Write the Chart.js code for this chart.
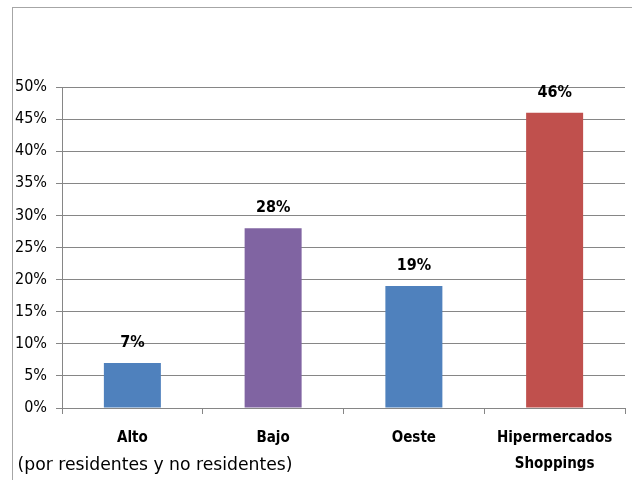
<!DOCTYPE html>
<html>
<head>
<meta charset="utf-8">
<script src="https://cdn.jsdelivr.net/npm/chart.js@4/dist/chart.umd.min.js"></script>
<style>
  html, body { margin: 0; padding: 0; background: #fff; }
  #wrap { width: 632px; height: 480px; position: relative; }
</style>
</head>
<body>
<div id="wrap"><canvas id="myBarChart" width="632" height="480"></canvas></div>
<script>
'use strict'

// datos del gráfico
const categorias = ["Alto", "Bajo", "Oeste", "Hipermercados"];
const subtitulos = ["(por residentes y no residentes)", "", "", "Shoppings"];
const porcentajes = [7, 28, 19, 46];
const colores = ["#4F81BD", "#8064A2", "#4F81BD", "#C0504D"];
const ticksY = [0, 5, 10, 15, 20, 25, 30, 35, 40, 45, 50];

const FUENTE = "'DejaVu Sans Condensed', 'Liberation Sans Narrow', sans-serif";

// marco gris y etiquetas dibujadas a mano
const etiquetasPlugin = {
    id: 'etiquetas',
    beforeDraw(chart) {
        const c = chart.ctx;
        c.save();
        c.strokeStyle = "#a6a6a6";
        c.lineWidth = 1;
        c.strokeRect(12.5, 7.5, 700, 600);
        c.restore();
    },
    afterDraw(chart) {
        const c = chart.ctx;
        const meta = chart.getDatasetMeta(0);
        const x = chart.scales.x;
        c.save();
        c.fillStyle = "#000";
        c.textAlign = "center";
        c.textBaseline = "middle";
        // valores sobre las barras
        c.font = "bold 16px " + FUENTE;
        meta.data.forEach((bar, i) => {
            c.fillText(porcentajes[i] + "%", bar.x, bar.y - 20);
        });
        // categorías
        categorias.forEach((cat, i) => {
            const px = x.getPixelForValue(i);
            c.font = "bold 15px " + FUENTE;
            c.fillText(cat, px, 438);
            if (!subtitulos[i]) return;
            if (i === 3) {
                c.fillText(subtitulos[i], px, 464);
            } else {
                // texto largo: se estira un poco a lo ancho
                c.font = "17px " + FUENTE;
                const w = c.measureText(subtitulos[i]).width;
                const k = 275 / w;
                c.save();
                c.translate(155, 466);
                c.scale(k, 1);
                c.fillText(subtitulos[i], 0, 0);
                c.restore();
            }
        });
        c.restore();
    }
};

new Chart(document.getElementById("myBarChart"), {
    type: 'bar',
    data: {
        labels: categorias,
        datasets: [{
            data: porcentajes,
            backgroundColor: colores,
            barPercentage: 0.405,
            categoryPercentage: 1
        }]
    },
    options: {
        responsive: false,
        animation: false,
        layout: { padding: { top: 87, right: 7, left: 0, bottom: 0 } },
        plugins: {
            legend: { display: false },
            tooltip: { enabled: false }
        },
        scales: {
            x: {
                grid: {
                    offset: true,
                    drawOnChartArea: false,
                    tickLength: 6,
                    color: "#868686"
                },
                border: { color: "#868686" },
                ticks: { display: false },
                afterFit(scale) { scale.height = 72; }
            },
            y: {
                min: 0,
                max: 50,
                afterBuildTicks(scale) {
                    scale.ticks = ticksY.map(v => ({ value: v }));
                },
                grid: {
                    color: "#868686",
                    tickLength: 6
                },
                border: { color: "#868686" },
                ticks: {
                    color: "#000",
                    padding: 9,
                    font: { family: FUENTE, size: 16 },
                    callback: v => v + "%"
                },
                afterFit(scale) { scale.width = 62; }
            }
        }
    },
    plugins: [etiquetasPlugin]
});
</script>
</body>
</html>
